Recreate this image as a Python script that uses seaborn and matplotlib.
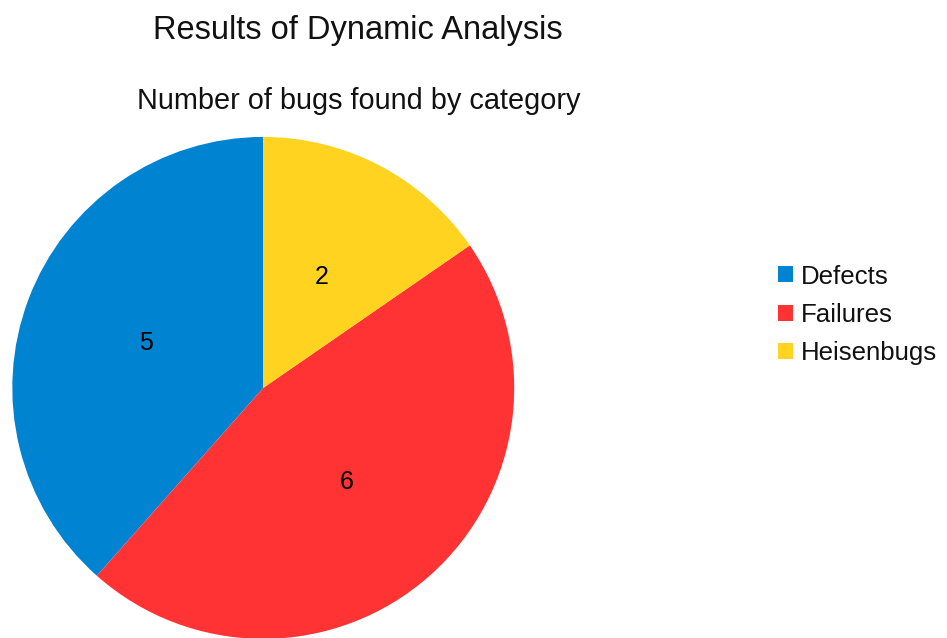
import matplotlib
matplotlib.use("Agg")
import matplotlib.pyplot as plt
import seaborn as sns
from matplotlib.patches import Patch

categories = ["Defects", "Failures", "Heisenbugs"]
values = [5, 6, 2]
colors = ["#0084D1", "#FF3333", "#FFD320"]

sns.set_theme(style="white")
plt.rcParams['font.family'] = ['Liberation Sans', 'DejaVu Sans']

fig = plt.figure(figsize=(9.47, 6.38), dpi=100)
ax = fig.add_axes([0.013, -0.0015, 0.530, 0.787])
palette = sns.color_palette(colors)
wedges, texts = ax.pie(values, colors=palette, startangle=90, counterclock=True,
                       labels=[str(v) for v in values], labeldistance=0.5,
                       wedgeprops=dict(linewidth=0, edgecolor="none"),
                       textprops=dict(fontsize=18, color="black", ha="center", va="center"),
                       radius=1.0)
ax.set_xlim(-1, 1)
ax.set_ylim(-1, 1)
ax.set_aspect("equal")
ax.axis("off")

fig.text(0.378, 1 - 31 / 638, "Results of Dynamic Analysis", ha="center", va="center",
         fontsize=23.5, color="#111111")
fig.text(0.379, 1 - 101 / 638, "Number of bugs found by category", ha="center", va="center",
         fontsize=20.8, color="#111111")

handles = [Patch(facecolor=c, edgecolor="none") for c in colors]
leg = fig.legend(handles, categories, loc="center left", bbox_to_anchor=(778 / 947, 1 - 315 / 638),
                 frameon=False, fontsize=18.6, handlelength=0.58, handleheight=0.58,
                 handletextpad=0.3, labelspacing=0.56, borderpad=0, borderaxespad=0)
for t in leg.get_texts():
    t.set_color("#111111")

fig.savefig("out.png", dpi=100)
